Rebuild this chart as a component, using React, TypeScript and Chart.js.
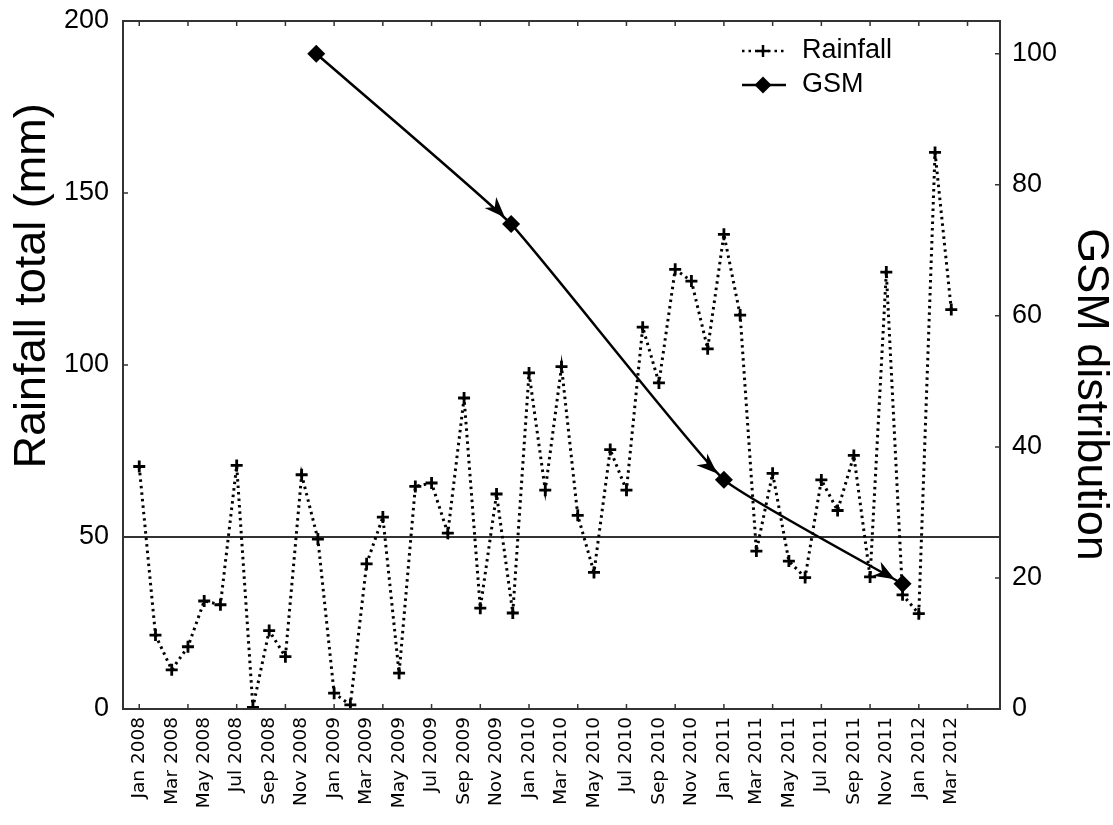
import React, { useEffect, useRef } from 'react';
import { Chart, registerables } from 'chart.js';

Chart.register(...registerables);

// Monthly rainfall totals (mm), Jan 2008 .. Mar 2012 (month index 0 = Jan 2008)
const rainfall = [
  70.5, 21.5, 11.4, 18.1, 31.4, 30.3, 70.8, 0.5, 22.8, 15.2, 68.1, 49.4,
  4.6, 1.2, 42.2, 55.8, 10.4, 64.7, 65.7, 51.1, 90.4, 29.3, 62.5, 27.9,
  97.7, 63.6, 99.5, 56.3, 39.7, 75.4, 63.6, 111.0, 94.8, 127.8, 124.4, 104.7,
  138.0, 114.5, 45.9, 68.5, 43.0, 38.2, 66.6, 57.7, 73.7, 38.4, 127.0, 33.2,
  27.7, 161.8, 116.1,
];

// GSM distribution survey points (month index, value)
const gsmMonths = [10.9, 22.9, 36, 47];
const gsmValues = [100, 74, 35, 19.1];

const xLabels = [
  'Jan 2008', 'Mar 2008', 'May 2008', 'Jul 2008', 'Sep 2008', 'Nov 2008',
  'Jan 2009', 'Mar 2009', 'May 2009', 'Jul 2009', 'Sep 2009', 'Nov 2009',
  'Jan 2010', 'Mar 2010', 'May 2010', 'Jul 2010', 'Sep 2010', 'Nov 2010',
  'Jan 2011', 'Mar 2011', 'May 2011', 'Jul 2011', 'Sep 2011', 'Nov 2011',
  'Jan 2012', 'Mar 2012',
];
const xLabelMonths = [0, 2, 4, 6, 8, 10, 12, 14, 16, 18, 20, 22, 24, 26, 28, 30, 32, 34, 36, 38, 40, 42, 44, 46, 48, 50];
const xTickMarkMonths = [0, 3, 6, 9, 12, 15, 18, 21, 24, 27, 30, 33, 36, 39, 42, 45, 48, 51];
const leftTicks = [0, 50, 100, 150, 200];
const rightTicks = [0, 20, 40, 60, 80, 100];
const thresholdValue = 50;

const X_MIN = -1;
const X_MAX = 53;
const LEFT_MAX = 200;
const RIGHT_MAX = 105;

const FONT = '"Liberation Sans", Arial, sans-serif';

const zeroPad = (s: any) => {
  s.paddingTop = 0;
  s.paddingBottom = 0;
  s.paddingLeft = 0;
  s.paddingRight = 0;
};

const decorPlugin = {
  id: 'decor',
  beforeDatasetsDraw(chart: any) {
    const { ctx, chartArea: a } = chart;
    const yL = chart.scales.y;
    const py = yL.getPixelForValue(thresholdValue);
    ctx.save();
    ctx.strokeStyle = '#333';
    ctx.lineWidth = 2;
    ctx.beginPath();
    ctx.moveTo(a.left, py);
    ctx.lineTo(a.right, py);
    ctx.stroke();
    ctx.restore();
  },
  afterDatasetsDraw(chart: any) {
    const { ctx } = chart;
    const meta = chart.getDatasetMeta(1);
    const pts = meta.data;
    ctx.save();
    ctx.fillStyle = '#000';
    for (let i = 1; i < pts.length; i++) {
      const p = pts[i];
      let dx = p.x - (p.cp1x ?? pts[i - 1].x);
      let dy = p.y - (p.cp1y ?? pts[i - 1].y);
      if (Math.abs(dx) + Math.abs(dy) < 0.01) {
        dx = p.x - pts[i - 1].x;
        dy = p.y - pts[i - 1].y;
      }
      const len = Math.hypot(dx, dy);
      const ux = dx / len;
      const uy = dy / len;
      const nx = -uy;
      const ny = ux;
      const tipX = p.x - 9 * ux;
      const tipY = p.y - 9 * uy;
      const L = 21;
      const W = 8;
      ctx.beginPath();
      ctx.moveTo(tipX, tipY);
      ctx.lineTo(tipX - L * ux + W * nx, tipY - L * uy + W * ny);
      ctx.lineTo(tipX - 0.7 * L * ux, tipY - 0.7 * L * uy);
      ctx.lineTo(tipX - L * ux - W * nx, tipY - L * uy - W * ny);
      ctx.closePath();
      ctx.fill();
    }
    ctx.restore();
  },
  afterDraw(chart: any) {
    const { ctx, chartArea: a } = chart;
    const x = chart.scales.x;
    const yL = chart.scales.y;
    const yR = chart.scales.y2;
    ctx.save();
    ctx.strokeStyle = '#333';
    ctx.lineWidth = 2;
    ctx.strokeRect(a.left, a.top, a.right - a.left, a.bottom - a.top);
    ctx.lineWidth = 1.5;
    ctx.beginPath();
    for (const m of xTickMarkMonths) {
      const px = x.getPixelForValue(m);
      ctx.moveTo(px, a.bottom);
      ctx.lineTo(px, a.bottom - 5);
      ctx.moveTo(px, a.top);
      ctx.lineTo(px, a.top + 5);
    }
    for (const v of leftTicks) {
      const py = yL.getPixelForValue(v);
      ctx.moveTo(a.left, py);
      ctx.lineTo(a.left + 5, py);
    }
    for (const v of rightTicks) {
      const py = yR.getPixelForValue(v);
      ctx.moveTo(a.right, py);
      ctx.lineTo(a.right - 5, py);
    }
    ctx.stroke();

    // Axis titles
    ctx.fillStyle = '#000';
    ctx.font = `45px ${FONT}`;
    ctx.textAlign = 'center';
    ctx.textBaseline = 'alphabetic';
    ctx.save();
    ctx.translate(a.left - 78, yL.getPixelForValue(123));
    ctx.rotate(-Math.PI / 2);
    ctx.fillText('Rainfall total (mm)', 0, 0);
    ctx.restore();
    ctx.save();
    ctx.translate(a.right + 78, yR.getPixelForValue(48));
    ctx.rotate(Math.PI / 2);
    ctx.fillText('GSM distribution', 0, 0);
    ctx.restore();

    // Legend
    const lx = a.right - 258;
    const ly1 = a.top + 30;
    const ly2 = a.top + 64;
    ctx.lineWidth = 2.5;
    ctx.strokeStyle = '#000';
    ctx.setLineDash([2.5, 4]);
    ctx.beginPath();
    ctx.moveTo(lx, ly1);
    ctx.lineTo(lx + 44, ly1);
    ctx.stroke();
    ctx.setLineDash([]);
    ctx.beginPath();
    ctx.moveTo(lx + 15, ly1);
    ctx.lineTo(lx + 27, ly1);
    ctx.moveTo(lx + 21, ly1 - 6);
    ctx.lineTo(lx + 21, ly1 + 6);
    ctx.stroke();
    ctx.beginPath();
    ctx.moveTo(lx, ly2);
    ctx.lineTo(lx + 44, ly2);
    ctx.stroke();
    ctx.beginPath();
    ctx.moveTo(lx + 21, ly2 - 8.5);
    ctx.lineTo(lx + 29.5, ly2);
    ctx.lineTo(lx + 21, ly2 + 8.5);
    ctx.lineTo(lx + 12.5, ly2);
    ctx.closePath();
    ctx.fill();
    ctx.font = `27px ${FONT}`;
    ctx.textAlign = 'left';
    ctx.textBaseline = 'middle';
    ctx.fillText('Rainfall', lx + 60, ly1);
    ctx.fillText('GSM', lx + 60, ly2);
    ctx.restore();
  },
};

export default function App() {
  const ref = useRef<HTMLCanvasElement | null>(null);

  useEffect(() => {
    if (!ref.current) return;
    const chart = new Chart(ref.current, {
      type: 'line',
      data: {
        datasets: [
          {
            label: 'Rainfall',
            data: rainfall.map((v, i) => ({ x: i, y: v })),
            yAxisID: 'y',
            borderColor: '#000',
            borderWidth: 3,
            borderDash: [2.5, 4],
            pointStyle: 'cross',
            pointRadius: 6,
            pointBorderWidth: 2.8,
            pointBorderColor: '#000',
            pointBackgroundColor: '#000',
            tension: 0,
            fill: false,
            order: 2,
          },
          {
            label: 'GSM',
            data: gsmValues.map((v, i) => ({ x: gsmMonths[i], y: v })),
            yAxisID: 'y2',
            borderColor: '#000',
            borderWidth: 2.5,
            pointStyle: 'rectRot',
            pointRadius: 9,
            pointBorderWidth: 0,
            pointBackgroundColor: '#000',
            tension: 0.12,
            fill: false,
            order: 1,
          },
        ],
      },
      options: {
        responsive: false,
        animation: false,
        devicePixelRatio: 1,
        layout: { padding: { top: 21, left: 0, right: 0, bottom: 0 } },
        plugins: {
          legend: { display: false },
          tooltip: { enabled: false },
        },
        scales: {
          x: {
            type: 'linear',
            min: X_MIN,
            max: X_MAX,
            grid: { display: false, drawTicks: false },
            border: { display: false },
            afterBuildTicks: (s: any) => {
              s.ticks = xLabelMonths.map((v) => ({ value: v }));
            },
            afterFit: (s: any) => {
              s.height = 116;
              zeroPad(s);
            },
            ticks: {
              autoSkip: false,
              minRotation: 90,
              maxRotation: 90,
              padding: 8,
              color: '#000',
              font: { family: '"DejaVu Sans", sans-serif', size: 18.5 },
              callback: (v: any) => {
                const idx = xLabelMonths.indexOf(Number(v));
                return idx >= 0 ? xLabels[idx] : '';
              },
            },
          },
          y: {
            type: 'linear',
            position: 'left',
            min: 0,
            max: LEFT_MAX,
            grid: { display: false, drawTicks: false },
            border: { display: false },
            afterBuildTicks: (s: any) => {
              s.ticks = leftTicks.map((v) => ({ value: v }));
            },
            afterFit: (s: any) => {
              s.width = 123;
              zeroPad(s);
            },
            ticks: {
              padding: 14,
              color: '#000',
              font: { family: FONT, size: 27 },
            },
          },
          y2: {
            type: 'linear',
            position: 'right',
            min: 0,
            max: RIGHT_MAX,
            grid: { display: false, drawTicks: false },
            border: { display: false },
            afterBuildTicks: (s: any) => {
              s.ticks = rightTicks.map((v) => ({ value: v }));
            },
            afterFit: (s: any) => {
              s.width = 113;
              zeroPad(s);
            },
            ticks: {
              padding: 12,
              color: '#000',
              font: { family: FONT, size: 27 },
            },
          },
        },
      },
      plugins: [decorPlugin],
    } as any);
    return () => chart.destroy();
  }, []);

  return (
    <div style={{ position: 'absolute', left: 0, top: 0, width: 1113, height: 825, background: '#fff' }}>
      <canvas ref={ref} width={1113} height={825} style={{ display: 'block', width: 1113, height: 825 }} />
    </div>
  );
}
